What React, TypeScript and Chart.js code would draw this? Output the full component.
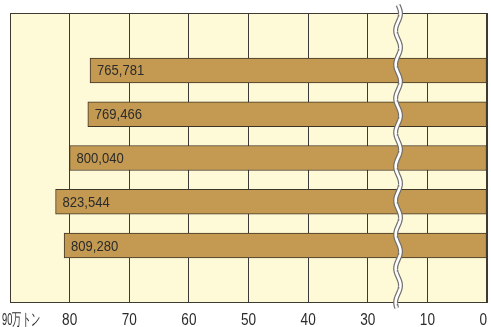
import React, { useEffect, useRef } from "react";
import { Chart, registerables } from "chart.js";

Chart.register(...registerables);

// Values in tonnes (displayed inside the bars)
const BAR_VALUES_TONNES = [765781, 769466, 800040, 823544, 809280];
// Axis ticks (万トン), with a break between 10 and 30
const TICK_VALUES = [90, 80, 70, 60, 50, 40, 30, 10, 0];
const TICK_LABELS = ["90万トン", "80", "70", "60", "50", "40", "30", "10", "0"];
const BREAK_START = 10;
const BREAK_END = 30;
const BREAK_WIDTH = 10; // the 10..30 span is drawn as 10 units

const FONT = '"Liberation Sans", Arial, sans-serif';

function toAxis(v: number): number {
  if (v <= BREAK_START) return v;
  if (v >= BREAK_END) return v - (BREAK_END - BREAK_START - BREAK_WIDTH);
  return BREAK_START + ((v - BREAK_START) / (BREAK_END - BREAK_START)) * BREAK_WIDTH;
}

function narrowText(ctx: CanvasRenderingContext2D, text: string, x: number, y: number, factor: number) {
  const w = ctx.measureText(text).width;
  ctx.fillText(text, x, y, w * factor);
}

const framePlugin = {
  id: "frame",
  beforeDraw(chart: any) {
    const { ctx, chartArea: a } = chart;
    ctx.save();
    ctx.fillStyle = "#fef9d7";
    ctx.fillRect(a.left, a.top, a.right - a.left, a.bottom - a.top);
    ctx.restore();
  },
  afterDatasetsDraw(chart: any) {
    const { ctx, chartArea: a } = chart;
    const xs = chart.scales.x;
    ctx.save();
    // frame
    ctx.strokeStyle = "#3f3a30";
    ctx.lineWidth = 1;
    ctx.strokeRect(Math.round(a.left) + 0.5, Math.round(a.top) + 0.5, Math.round(a.right - a.left) - 1, Math.round(a.bottom - a.top) - 1);
    ctx.lineWidth = 2;
    ctx.beginPath();
    ctx.moveTo(Math.round(a.right), a.top);
    ctx.lineTo(Math.round(a.right), a.bottom);
    ctx.stroke();

    // bar value labels
    const meta = chart.getDatasetMeta(0);
    ctx.fillStyle = "#2b2b2b";
    ctx.font = `14.5px ${FONT}`;
    ctx.textBaseline = "middle";
    ctx.textAlign = "left";
    meta.data.forEach((bar: any, i: number) => {
      const left = Math.min(bar.x, bar.base);
      narrowText(ctx, BAR_VALUES_TONNES[i].toLocaleString("en-US"), left + 7, bar.y + 1, 0.9);
    });

    // axis break wave
    const cx = xs.getPixelForValue((toAxis(BREAK_START) + toAxis(BREAK_END)) / 2) + 0.5;
    const y0 = 5;
    const y1 = 308;
    const amp = 2.4;
    const period = 34;
    const path = () => {
      ctx.beginPath();
      for (let y = y0; y <= y1; y += 0.5) {
        const x = cx + amp * Math.sin(((y - y0) / period) * Math.PI * 2);
        if (y === y0) ctx.moveTo(x, y);
        else ctx.lineTo(x, y);
      }
    };
    ctx.lineCap = "butt";
    path();
    ctx.strokeStyle = "#6f6f6f";
    ctx.lineWidth = 5;
    ctx.stroke();
    path();
    ctx.strokeStyle = "#ffffff";
    ctx.lineWidth = 2.6;
    ctx.stroke();

    // x tick labels
    ctx.fillStyle = "#2b2b2b";
    ctx.font = `17px ${FONT}`;
    ctx.textBaseline = "middle";
    const last = TICK_VALUES.length - 1;
    TICK_VALUES.forEach((v, i) => {
      const px = xs.getPixelForValue(toAxis(v));
      const label = TICK_LABELS[i];
      if (i === 0) {
        ctx.textAlign = "left";
        ctx.fillText(label, 2, 320, 38);
      } else if (i === last) {
        ctx.textAlign = "right";
        narrowText(ctx, label, px, 320, 0.8);
      } else {
        ctx.textAlign = "center";
        narrowText(ctx, label, px, 320, 0.8);
      }
    });
    ctx.restore();
  },
};

export default function App() {
  const ref = useRef<HTMLCanvasElement | null>(null);
  useEffect(() => {
    if (!ref.current) return;
    const chart = new Chart(ref.current, {
      type: "bar",
      data: {
        datasets: [
          {
            data: BAR_VALUES_TONNES.map((t, i) => ({ x: toAxis(t / 10000), y: i + 1 })),
            backgroundColor: "#c49a52",
            borderColor: "#3f3526",
            borderWidth: 1,
            borderSkipped: false,
            barThickness: 25,
          },
        ],
      },
      options: {
        indexAxis: "y",
        animation: false,
        responsive: false,
        layout: { padding: { left: 10, right: 4, top: 13, bottom: 24 } },
        plugins: { legend: { display: false }, tooltip: { enabled: false } },
        scales: {
          x: {
            type: "linear",
            min: 0,
            max: toAxis(90),
            reverse: true,
            ticks: { display: false, stepSize: 10 },
            grid: { color: "#3a3a3a", lineWidth: 1, drawTicks: false },
            border: { display: false },
            afterFit: (s: any) => { s.height = 0; },
          },
          y: {
            type: "linear",
            min: 0.16,
            max: 5.84,
            reverse: true,
            ticks: { display: false },
            grid: { display: false, drawTicks: false },
            border: { display: false },
            afterFit: (s: any) => { s.width = 0; },
          },
        },
      },
      plugins: [framePlugin],
    } as any);
    return () => chart.destroy();
  }, []);
  return (
    <div style={{ position: "absolute", left: 0, top: 0, width: 491, height: 327, background: "#fff" }}>
      <canvas ref={ref} width={491} height={327} style={{ display: "block" }} />
    </div>
  );
}
